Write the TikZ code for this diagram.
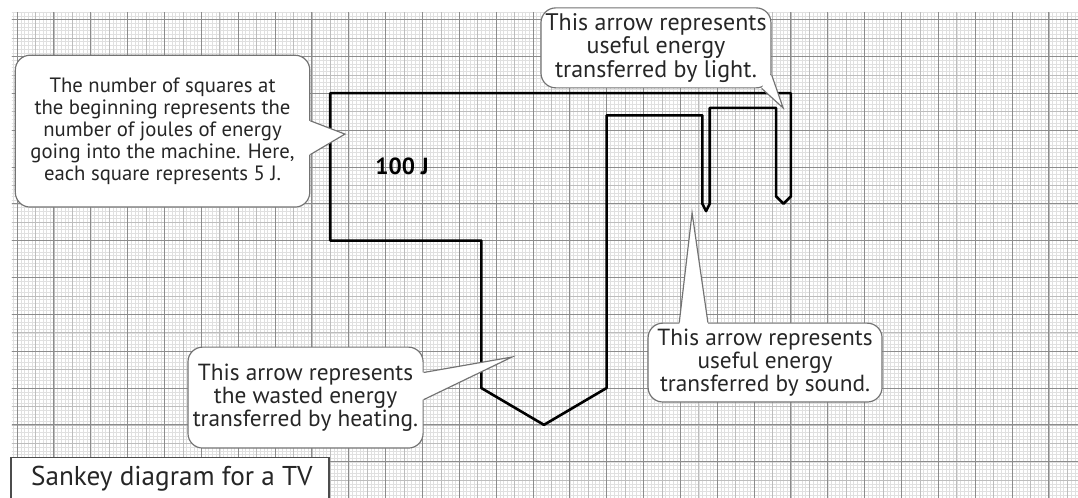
\documentclass[tikz,border=0pt]{standalone}
\usepackage{fontspec}
\setmainfont{PT Sans}
\usepackage{tikz}
\usetikzlibrary{calc}

\begin{document}
\begin{tikzpicture}[
    note/.style={draw=black!55, fill=white, line width=0.9pt, rounded corners=0.4cm, align=center, text=black!85, inner ysep=2pt, font=\fontsize{18}{18}\selectfont},
    pointer/.style={draw=black!55, line width=0.9pt},
    sankey/.style={line width=2pt, line join=round}
]
    \useasboundingbox (-0.461,0.529) rectangle (28.792,-12.958);

    % graph paper
    \begin{scope}
        \clip (-0.14,0.18) rectangle (28.8,-12.96);
        \draw[black!12, line width=0.25pt, step=0.1] (-1,-13) grid (29,1);
        \draw[black!26, line width=0.4pt, step=0.5] (-1,-13) grid (29,1);
        \draw[black!45, line width=0.6pt, step=1] (-1,-13) grid (29,1);
    \end{scope}

    % energy flows, 1 square = 5 J
    \draw[sankey] (8.5,-2) -- (21,-2) -- (21,-4.8) -- (20.8,-5) -- (20.6,-4.8) -- (20.6,-2.4)
        -- (18.8,-2.4) -- (18.8,-5) -- (18.7,-5.2) -- (18.6,-5) -- (18.6,-2.6)
        -- (16,-2.6) -- (16,-10) -- (14.3,-11) -- (12.6,-10) -- (12.6,-6) -- (8.5,-6) -- cycle;
    \node[font=\bfseries\fontsize{18}{20}\selectfont] (inlabel) at (10.45,-3.98) {100 J};

    % input note
    \node[note, font=\fontsize{16}{17}\selectfont, minimum width=7.99cm, minimum height=4.12cm] (innote) at (3.95,-3.03)
        {The number of squares at\\the beginning represents the\\number of joules of energy\\going into the machine. Here,\\each square represents 5 J.};
    \coordinate (intip) at (8.90,-3.11);
    \fill[white] (innote.4) -- (intip) -- (innote.-9) -- ([xshift=-3pt]innote.-9) -- ([xshift=-3pt]innote.4) -- cycle;
    \draw[pointer] (innote.4) -- (intip) -- (innote.-9);

    % light note
    \node[note, font=\fontsize{18.5}{18.2}\selectfont, minimum width=6.24cm, minimum height=2.17cm] (lightnote) at (17.34,-0.77)
        {This arrow represents\\useful energy\\transferred by light.};
    \coordinate (lighttip) at (20.79,-2.40);
    \fill[white] (lightnote.-13) -- (lighttip) -- (lightnote.-21) -- ([shift={(-4pt,4pt)}]lightnote.-17) -- cycle;
    \draw[pointer] (lightnote.-13) -- (lighttip) -- (lightnote.-21);

    % sound note
    \node[note, minimum width=6.35cm, minimum height=2.14cm] (soundnote) at (20.30,-9.31)
        {This arrow represents\\useful energy\\transferred by sound.};
    \coordinate (soundtip) at (18.32,-5.25);
    \fill[white] (soundnote.155) -- (soundtip) -- (soundnote.145) -- ([yshift=-3pt]soundnote.145) -- ([yshift=-3pt]soundnote.155) -- cycle;
    \draw[pointer] (soundnote.155) -- (soundtip) -- (soundnote.145);

    % heat note
    \node[note, minimum width=6.38cm, minimum height=2.74cm] (heatnote) at (7.83,-10.26)
        {This arrow represents\\the wasted energy\\transferred by heating.};
    \coordinate (heattip) at (13.43,-9.16);
    \fill[white] (heatnote.12) -- (heattip) -- (heatnote.-1) -- ([xshift=-3pt]heatnote.-1) -- ([xshift=-3pt]heatnote.12) -- cycle;
    \draw[pointer] (heatnote.12) -- (heattip) -- (heatnote.-1);

    % title
    \node[draw=black!70, line width=1.2pt, fill=white, anchor=north west, minimum width=8.63cm, minimum height=1.14cm] (titlebox) at (-0.19,-11.87) {};
    \node[anchor=west, text=black!85, font=\fontsize{21}{24}\selectfont] (title) at ([xshift=0.45cm]titlebox.west) {Sankey diagram for a TV};
\end{tikzpicture}
\end{document}
